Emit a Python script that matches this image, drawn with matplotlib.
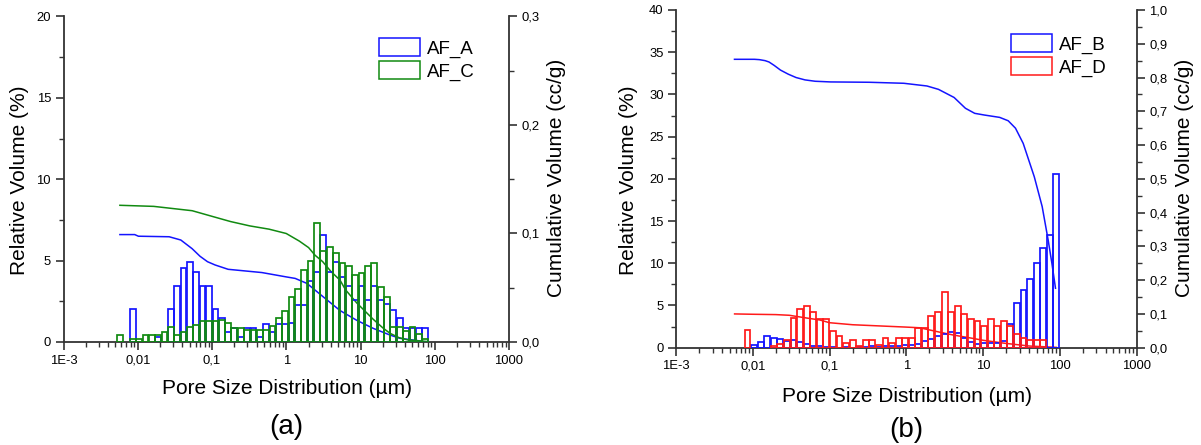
import numpy as np
import matplotlib
matplotlib.use("Agg")
import matplotlib.pyplot as plt
from matplotlib.ticker import FixedLocator, FuncFormatter, MultipleLocator, LogLocator, NullFormatter
from matplotlib.patches import Patch

plt.rcParams['font.family'] = ['Liberation Sans', 'DejaVu Sans']

# pore diameter at the centre of each intrusion bin (µm)
pore_size = [0.00577, 0.00703, 0.00855, 0.0104, 0.0127, 0.0155, 0.0188, 0.0229, 0.0279, 0.0340,
             0.0414, 0.0504, 0.0614, 0.0748, 0.0910, 0.111, 0.135, 0.164, 0.200, 0.244,
             0.297, 0.362, 0.441, 0.537, 0.654, 0.796, 0.970, 1.18, 1.44, 1.75,
             2.13, 2.60, 3.16, 3.85, 4.69, 5.71, 6.97, 8.47, 10.3, 12.6,
             15.3, 18.7, 22.7, 27.7, 33.7, 41.0, 50.0, 60.8, 74.1, 90.2]

# relative intruded volume per bin (%)
af_a = [0, 0, 2.0, 0, 0, 0, 0.33, 0, 2.0, 3.44,
        4.56, 4.89, 4.3, 3.44, 3.44, 2.0, 1.45, 0.6, 0.88, 0.33,
        0.86, 0.86, 0.3, 1.12, 0.6, 1.12, 1.12, 1.15, 2.29, 2.29,
        3.74, 4.31, 6.6, 4.31, 4.89, 4.0, 3.46, 2.58, 3.46, 2.58,
        3.46, 2.58, 2.31, 1.95, 1.45, 0.84, 0.84, 0.84, 0.84, 0]
af_c = [0.45, 0, 0.17, 0.17, 0.45, 0.45, 0.45, 0.6, 0.9, 0.45,
        0.6, 0.9, 1.02, 1.3, 1.3, 1.3, 1.35, 1.19, 0.88, 0.88,
        0.74, 0.74, 0.74, 0.74, 1.0, 1.47, 1.9, 2.78, 3.23, 4.4,
        4.97, 7.32, 5.58, 5.85, 5.44, 4.87, 4.68, 4.11, 4.27, 4.68,
        4.83, 3.35, 2.78, 0.9, 0.95, 0.7, 0.9, 0.5, 0.2, 0]
af_b = [0, 0, 0, 0.28, 0.67, 1.4, 1.2, 1.05, 0.85, 0.87,
        0.7, 0.43, 0.2, 0.15, 0.1, 0.05, 0, 0.1, 0, 0.05,
        0.1, 0.15, 0.1, 0.15, 0.2, 0.25, 0.28, 0.3, 0.4, 0.75,
        1.03, 1.35, 1.58, 1.82, 1.7, 1.19, 0.64, 0.4, 0.5, 0.5,
        0.5, 0.78, 2.77, 5.33, 6.8, 8.1, 10.07, 11.78, 13.35, 20.58]
af_d = [0, 0, 2.06, 0, 0, 0, 0.2, 0.4, 0.91, 3.48,
        4.62, 4.9, 4.27, 3.4, 3.4, 2.0, 1.42, 0.6, 0.87, 0.2,
        0.87, 0.87, 0.3, 1.19, 0.6, 1.19, 1.19, 1.19, 2.3, 2.3,
        3.75, 4.27, 6.6, 4.27, 4.9, 4.03, 3.44, 3.16, 2.61, 3.44,
        2.61, 3.16, 2.6, 1.6, 1.2, 0.87, 0.87, 0.87, 0, 0]

# cumulative intruded volume (cc/g) against pore diameter (µm)
cum_size_a = [0.00575, 0.0091, 0.0102, 0.0265, 0.038, 0.054, 0.069, 0.087, 0.11, 0.165,
              0.47, 1.0, 1.32, 1.9, 3.1, 5.3, 8.9, 14.8, 25, 34, 69]
cum_a = [0.099, 0.099, 0.0975, 0.097, 0.094, 0.086, 0.079, 0.074, 0.071, 0.067,
         0.064, 0.060, 0.0586, 0.054, 0.042, 0.029, 0.020, 0.0126, 0.0064, 0.0034, 0.0006]
cum_size_c = [0.00575, 0.0164, 0.0541, 0.098, 0.178, 0.323, 0.586, 1.0, 1.5, 2.0,
              2.44, 3.1, 4.0, 5.3, 6.3, 8.9, 14.8, 20, 25, 33, 43, 77]
cum_c = [0.126, 0.125, 0.121, 0.116, 0.111, 0.107, 0.104, 0.100, 0.093, 0.087,
         0.080, 0.074, 0.065, 0.057, 0.048, 0.036, 0.021, 0.013, 0.008, 0.004, 0.002, 0.0005]
cum_size_b = [0.00578, 0.0105, 0.0122, 0.0145, 0.0163, 0.019, 0.023, 0.029, 0.0367, 0.048,
              0.065, 0.103, 0.33, 0.93, 1.86, 2.63, 4.2, 5.9, 7.8, 10.4,
              16.5, 21.3, 26.5, 33.4, 46.6, 59, 70.6, 79, 88]
cum_b = [0.854, 0.854, 0.853, 0.850, 0.846, 0.836, 0.822, 0.810, 0.800, 0.793,
         0.789, 0.787, 0.786, 0.783, 0.775, 0.765, 0.741, 0.709, 0.694, 0.689,
         0.682, 0.672, 0.650, 0.605, 0.506, 0.418, 0.319, 0.25, 0.176]
cum_size_d = [0.0058, 0.01, 0.02, 0.03, 0.05, 0.075, 0.1, 0.2, 0.5, 1.0,
              1.5, 2.6, 4.0, 7.2, 10, 19.4, 40, 90]
cum_d = [0.100, 0.099, 0.098, 0.096, 0.088, 0.082, 0.074, 0.068, 0.064, 0.061,
         0.059, 0.047, 0.038, 0.028, 0.022, 0.013, 0.005, 0.001]

x_ticks = [1e-3, 1e-2, 1e-1, 1, 10, 100, 1000]
x_tick_labels = ['1E-3', '0,01', '0,1', '1', '10', '100', '1000']

BLUE = '#1414ff'
GREEN = '#118a11'
RED = '#ff1a1a'
BAR_WIDTH_DEC = 0.077  # bar width in decades

W, H = 1201, 445
fig = plt.figure(figsize=(W / 100, H / 100), dpi=100)


def rect(l, t, r, b):
    return [l / W, 1 - b / H, (r - l) / W, (b - t) / H]


def comma(v, _pos=None, nd=1):
    return f'{v:.{nd}f}'.replace('.', ',')


def draw_bars(ax, sizes, values, color):
    s = np.asarray(sizes)
    v = np.asarray(values)
    keep = v > 0
    s, v = s[keep], v[keep]
    half = 10 ** (BAR_WIDTH_DEC / 2)
    left = s / half
    ax.bar(left, v, width=s * half - left, align='edge', fill=False,
           edgecolor=color, linewidth=1.25, zorder=3)


def style_panel(ax, ax2, ymax, ymaj, y2max, y2maj):
    ax.set_xscale('log')
    ax.set_xlim(1e-3, 1e3)
    ax.set_ylim(0, ymax)
    ax2.set_ylim(0, y2max)
    ax.xaxis.set_major_locator(FixedLocator(x_ticks))
    ax.xaxis.set_major_formatter(FuncFormatter(
        lambda v, p: x_tick_labels[x_ticks.index(v)] if v in x_ticks else ''))
    ax.xaxis.set_minor_locator(LogLocator(base=10, subs=np.arange(2, 10), numticks=20))
    ax.xaxis.set_minor_formatter(NullFormatter())
    ax.yaxis.set_major_locator(MultipleLocator(ymaj))
    ax.yaxis.set_minor_locator(MultipleLocator(ymaj / 2))
    ax.yaxis.set_major_formatter(FuncFormatter(lambda v, p: f'{v:g}'))
    ax2.yaxis.set_major_locator(MultipleLocator(y2maj))
    ax2.yaxis.set_minor_locator(MultipleLocator(y2maj / 2))
    ax2.yaxis.set_major_formatter(FuncFormatter(comma))
    for a in (ax, ax2):
        a.spines['top'].set_visible(False)
        for sp in a.spines.values():
            sp.set_linewidth(1.3)
            sp.set_color('#333333')
        a.patch.set_visible(False)
    ax2.spines['left'].set_visible(False)
    ax2.spines['bottom'].set_visible(False)
    ax.spines['right'].set_visible(False)
    ax.tick_params(axis='both', which='major', direction='out', length=6, width=1.2,
                   labelsize=9.4, color='#333333', pad=3)
    ax.tick_params(axis='both', which='minor', direction='out', length=3.5, width=1.0, color='#333333')
    ax.tick_params(axis='x', which='major', pad=3)
    ax2.tick_params(axis='y', which='major', direction='out', length=6, width=1.2,
                    labelsize=9.4, color='#333333', pad=3)
    ax2.tick_params(axis='y', which='minor', direction='out', length=3.5, width=1.0, color='#333333')


def place_label(text, xpx, ypx, rot=0, size=15):
    fig.text(xpx / W, 1 - ypx / H, text, rotation=rot, ha='center', va='center', fontsize=size)


# ---- panel (a) ----
axA = fig.add_axes(rect(63.5, 16.5, 509, 342))
axA2 = axA.twinx()
draw_bars(axA, pore_size, af_a, BLUE)
draw_bars(axA, pore_size, af_c, GREEN)
axA2.plot(cum_size_a, cum_a, color=BLUE, lw=1.1)
axA2.plot(cum_size_c, cum_c, color=GREEN, lw=1.1)
style_panel(axA, axA2, 20, 5, 0.3, 0.1)
axA.set_zorder(axA2.get_zorder() + 1)

# ---- panel (b) ----
axB = fig.add_axes(rect(676, 10, 1136.5, 347.7))
axB2 = axB.twinx()
draw_bars(axB, pore_size, af_b, BLUE)
draw_bars(axB, pore_size, af_d, RED)
axB2.plot(cum_size_b, cum_b, color=BLUE, lw=1.1)
axB2.plot(cum_size_d, cum_d, color=RED, lw=1.1)
style_panel(axB, axB2, 40, 5, 1.0, 0.1)
axB.set_zorder(axB2.get_zorder() + 1)

# axis titles and panel letters
place_label('Relative Volume (%)', 19.5, 180, rot=90)
place_label('Cumulative Volume (cc/g)', 556.5, 178, rot=90)
place_label('Pore Size Distribution (µm)', 286.5, 388)
place_label('(a)', 286.5, 427, size=20)
place_label('Relative Volume (%)', 628.5, 180, rot=90)
place_label('Cumulative Volume (cc/g)', 1184.5, 178, rot=90)
place_label('Pore Size Distribution (µm)', 906.5, 396)
place_label('(b)', 906, 430, size=20)


# legends with open rectangles
def legend(ax, labels, colors, lpx, tpx):
    handles = [Patch(facecolor='none', edgecolor=c, linewidth=1.1) for c in colors]
    ax.legend(handles, labels, loc='upper left',
              bbox_to_anchor=(lpx / W, 1 - tpx / H), bbox_transform=fig.transFigure,
              frameon=False, fontsize=13.5, handlelength=2.2, handleheight=1.1,
              labelspacing=0.2, handletextpad=0.35, borderpad=0, borderaxespad=0)


legend(axA, ['AF_A', 'AF_C'], [BLUE, GREEN], 379, 38)
legend(axB, ['AF_B', 'AF_D'], [BLUE, RED], 1011, 34)

fig.savefig('out.png', dpi=100)
